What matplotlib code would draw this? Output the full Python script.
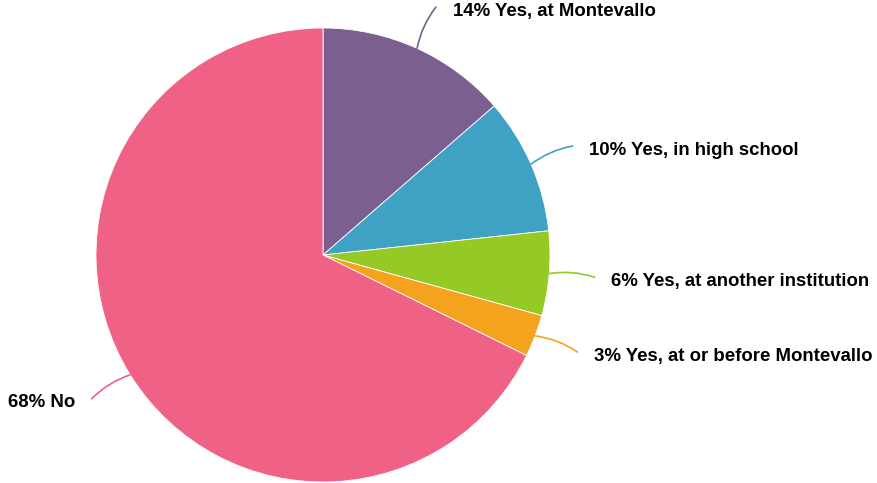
"""
Pie chart: research experience.
"""
import numpy as np
import matplotlib.pyplot as plt

labels = ["Yes, at Montevallo", "Yes, in high school", "Yes, at another institution",
          "Yes, at or before Montevallo", "No"]
shares = [13.6, 9.7, 6.0, 3.0, 67.7]
pct_text = ["14%", "10%", "6%", "3%", "68%"]
colors = ["#7b5f8f", "#3fa2c4", "#95c925", "#f5a31f", "#ef6286"]

plt.rcParams['font.family'] = ['Liberation Sans', 'DejaVu Sans']

W, H = 878, 483
fig = plt.figure(figsize=(W / 100, H / 100), dpi=100)
cx, cy, r = 323, 255, 227
ax = fig.add_axes([(cx - r) / W, (H - cy - r) / H, 2 * r / W, 2 * r / H])

wedges, _ = ax.pie(shares, colors=colors, startangle=90, counterclock=False, radius=1,
                   wedgeprops=dict(edgecolor='white', linewidth=0.6))
ax.set_xlim(-1, 1)
ax.set_ylim(-1, 1)
ax.axis('off')

for w, lab, pct, col in zip(wedges, labels, pct_text, colors):
    mid = np.deg2rad((w.theta1 + w.theta2) / 2)
    x0, y0 = np.cos(mid), np.sin(mid)
    x1, y1 = 1.2 * x0, 1.2 * y0
    side = 1 if x0 >= 0 else -1
    rad = 0.12 if side > 0 else -0.12
    ax.annotate('', xy=(x0, y0), xytext=(x1, y1),
                arrowprops=dict(arrowstyle='-', color=col, lw=1.2,
                                connectionstyle=f'arc3,rad={rad}',
                                shrinkA=0, shrinkB=0),
                annotation_clip=False)
    ax.annotate(f"{pct} {lab}", xy=(x1, y1), xytext=(12 * side, -3),
                textcoords='offset points', ha='left' if side > 0 else 'right',
                va='center', fontsize=13.4, fontweight='bold', annotation_clip=False)

fig.savefig('out.png', dpi=100)
